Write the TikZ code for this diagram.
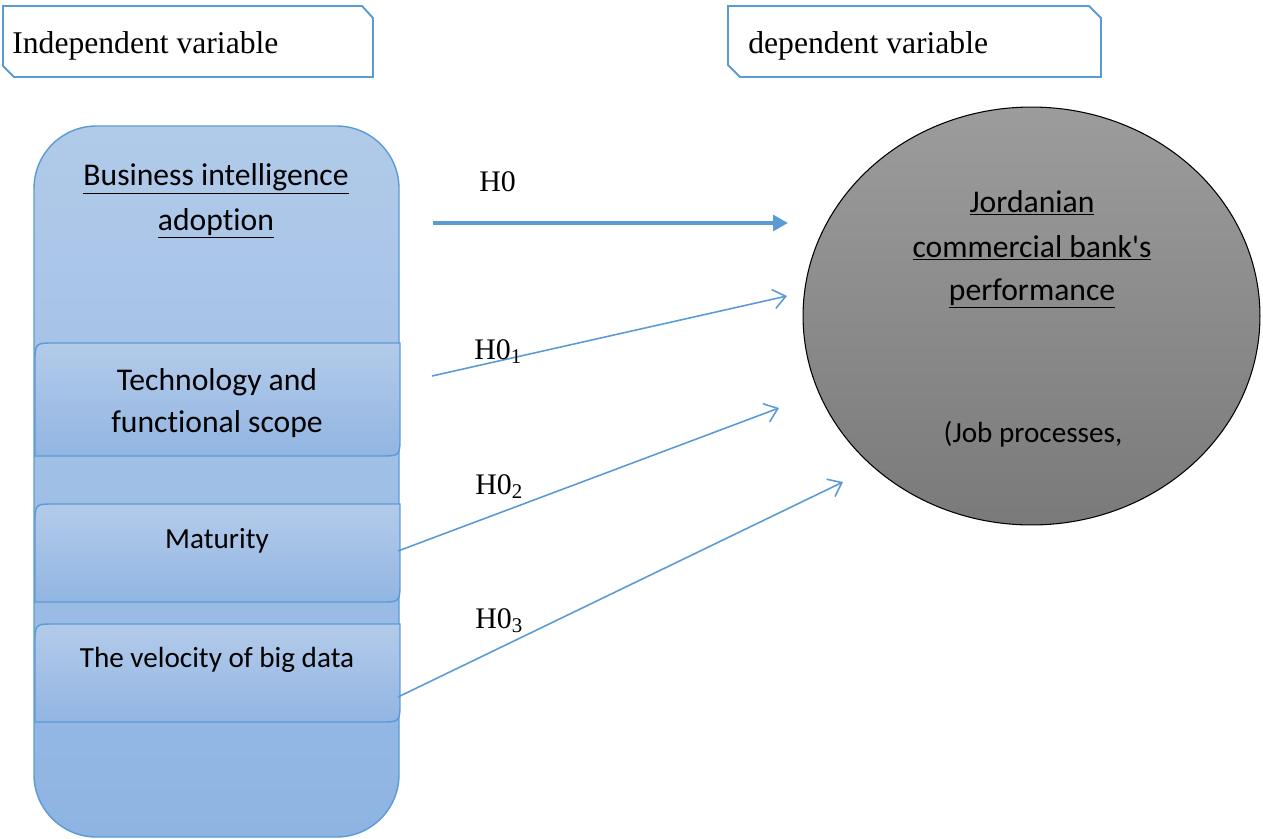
\documentclass[tikz,border=0pt]{standalone}
\usepackage{fontspec}
\setmainfont{Liberation Serif}
\newfontfamily\calibri[Ligatures=CommonOff,RawFeature=-calt]{Carlito}
\usetikzlibrary{arrows.meta,shapes.geometric}
\definecolor{accentblue}{HTML}{5B9BD5}
\definecolor{bigtop}{HTML}{B1CAE9}
\definecolor{bigbottom}{HTML}{8EB4E3}
\definecolor{subtop}{HTML}{B3CBEA}
\definecolor{subbottom}{HTML}{92B5E2}
\definecolor{perftop}{HTML}{9C9C9C}
\definecolor{perfbottom}{HTML}{7A7A7A}
\tikzset{
  headbox/.style={draw=accentblue, line width=1.1pt, fill=white},
  headtext/.style={anchor=base west, inner sep=0pt, font=\fontsize{18}{22}\selectfont},
  boxtext/.style={anchor=base, inner sep=0pt, font=\calibri\fontsize{18}{22}\selectfont},
  smallbox/.style={boxtext, font=\calibri\fontsize{16.6}{20}\selectfont},
  hlabel/.style={anchor=base west, inner sep=0pt, font=\fontsize{17}{20}\selectfont},
  thinarrow/.style={draw=accentblue, line width=0.9pt, -{Straight Barb[length=7pt,width=11pt]}},
}
\begin{document}
\begin{tikzpicture}[x=0.02cm,y=-0.02cm]
  \useasboundingbox (0,0) rectangle (1263,838);

  % header boxes
  \draw[headbox] (3,6) -- (362,6) -- (373,18) -- (373,77) -- (14,77) -- (3,66) -- cycle;
  \node[headtext] (indep) at (12,54) {Independent variable};
  \draw[headbox] (728,6) -- (1089,6) -- (1101,18) -- (1101,77) -- (740,77) -- (728,65) -- cycle;
  \node[headtext] (dep) at (748,54) {dependent variable};

  % independent side
  \draw[draw=accentblue, line width=0.8pt, top color=bigtop, bottom color=bigbottom, rounded corners=1.25cm]
    (34,126) rectangle (399,837);
  \node[boxtext] (bi1) at (216,185) {\underline{Business intelligence}};
  \node[boxtext] (bi2) at (216,230) {\underline{adoption}};

  \foreach \t/\b in {343/456, 504/602, 624/722}
    \draw[draw=accentblue, line width=0.8pt, top color=subtop, bottom color=subbottom]
      (35,\b) -- (35,\t+20) .. controls (35,\t) .. (55,\t) -- (400,\t)
      -- (400,\b-20) .. controls (400,\b) .. (380,\b) -- cycle;
  \node[boxtext] (tech1) at (217,390) {Technology and};
  \node[boxtext] (tech2) at (217,432) {functional scope};
  \node[smallbox] (mat) at (217,548) {Maturity};
  \node[smallbox] (vel) at (217,667) {The velocity of big data};

  % dependent side
  \node[ellipse, draw=black, line width=0.6pt, top color=perftop, bottom color=perfbottom,
        minimum width=9.14cm, minimum height=8.36cm, inner sep=0pt] (perf) at (1031.5,316) {};
  \node[boxtext] (perf1) at (1032,212) {\underline{Jordanian}};
  \node[boxtext] (perf2) at (1032,257) {\underline{commercial bank's}};
  \node[boxtext] (perf3) at (1032,300) {\underline{performance}};
  \node[smallbox] (perf4) at (1033,442) {(Job processes,};

  % hypotheses
  \coordinate (bi-out) at (433,223);
  \coordinate (tech-out) at (432,376);
  \coordinate (mat-out) at (398,551);
  \coordinate (vel-out) at (398,697);
  \coordinate (h0-in) at (788,223);
  \coordinate (h1-in) at (787,296);
  \coordinate (h2-in) at (779,408);
  \coordinate (h3-in) at (843,482);

  \draw[draw=accentblue, line width=2pt, -{Triangle[length=8.5pt,width=9pt]}] (bi-out) -- (h0-in);
  \draw[thinarrow] (tech-out) -- (h1-in);
  \draw[thinarrow] (mat-out) -- (h2-in);
  \draw[thinarrow] (vel-out) -- (h3-in);

  \node[hlabel] (h0) at (479,191) {H0};
  \node[hlabel] (h1) at (474,359) {H0\textsubscript{1}};
  \node[hlabel] (h2) at (475,494) {H0\textsubscript{2}};
  \node[hlabel] (h3) at (475,628) {H0\textsubscript{3}};
\end{tikzpicture}
\end{document}
